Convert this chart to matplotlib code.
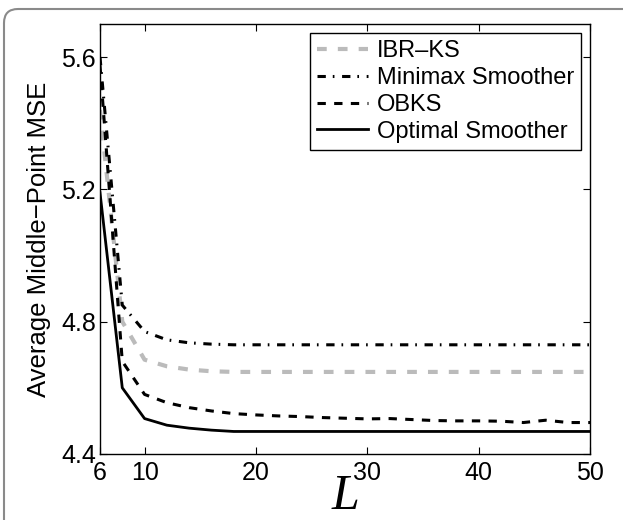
import numpy as np
import matplotlib
matplotlib.use("Agg")
import matplotlib.pyplot as plt
from matplotlib.patches import FancyBboxPatch

L = [6, 8, 10, 12, 14, 16, 18, 20, 22, 24, 26, 28, 30, 32, 34, 36, 38, 40, 42, 44, 46, 48, 50]

ibr_ks = [5.44, 4.80, 4.685, 4.665, 4.655, 4.650, 4.648, 4.648, 4.648, 4.648, 4.648, 4.648,
          4.648, 4.648, 4.648, 4.648, 4.648, 4.648, 4.648, 4.648, 4.648, 4.648, 4.648]
minimax = [5.60, 4.85, 4.770, 4.745, 4.736, 4.732, 4.730, 4.730, 4.730, 4.730, 4.730, 4.730,
           4.730, 4.730, 4.730, 4.730, 4.730, 4.730, 4.730, 4.730, 4.730, 4.730, 4.730]
obks = [5.575, 4.68, 4.580, 4.555, 4.540, 4.530, 4.522, 4.518, 4.515, 4.513, 4.510, 4.508,
        4.506, 4.507, 4.504, 4.501, 4.500, 4.500, 4.499, 4.495, 4.502, 4.495, 4.495]
optimal = [5.19, 4.60, 4.507, 4.487, 4.478, 4.472, 4.468, 4.468, 4.468, 4.468, 4.468, 4.468,
           4.468, 4.468, 4.468, 4.468, 4.468, 4.468, 4.468, 4.468, 4.468, 4.468, 4.468]

labels = ["IBR\u2013KS", "Minimax Smoother", "OBKS", "Optimal Smoother"]

plt.rcParams['font.family'] = ['Liberation Sans', 'DejaVu Sans']
plt.rcParams['lines.scale_dashes'] = False

fig = plt.figure(figsize=(6.23, 5.2), dpi=100)
ax = fig.add_axes([0.1605, 0.127, 0.787, 0.827])

ax.plot(L, ibr_ks, color='#bbbbbb', lw=3.0, dashes=(7, 8), label=labels[0])
ax.plot(L, minimax, color='black', lw=2.2, dashes=(6, 5, 1.2, 5.5), label=labels[1])
ax.plot(L, obks, color='black', lw=2.2, dashes=(6, 6), label=labels[2])
ax.plot(L, optimal, color='black', lw=2.0, label=labels[3])

ax.set_xlim(6, 50)
ax.set_ylim(4.4, 5.7)
ax.set_xticks([6, 10, 20, 30, 40, 50])
ax.set_yticks([4.4, 4.8, 5.2, 5.6])
ax.tick_params(direction='in', top=True, right=True, labelsize=18, length=5, width=0.8, pad=3)
ax.tick_params(axis='x', pad=5)
for s in ax.spines.values():
    s.set_linewidth(1.0)

ax.set_ylabel("Average Middle\u2212Point MSE", fontsize=18.5, labelpad=7)
ax.set_xlabel("L", fontsize=36, fontstyle='italic', family='Liberation Serif', labelpad=-8)

leg = ax.legend(loc='upper right', fontsize=17, handlelength=2.15, handletextpad=0.35,
                borderpad=0.3, labelspacing=0.2, fancybox=False, framealpha=1,
                edgecolor='black', borderaxespad=0.4)
leg.get_frame().set_linewidth(1.0)

border = FancyBboxPatch((4, -30), 660, 541, boxstyle="round,pad=0,rounding_size=14",
                        transform=None, facecolor='none', edgecolor='#8a8a8a', lw=1.5)
fig.patches.append(border)

fig.savefig("out.png", dpi=100)
